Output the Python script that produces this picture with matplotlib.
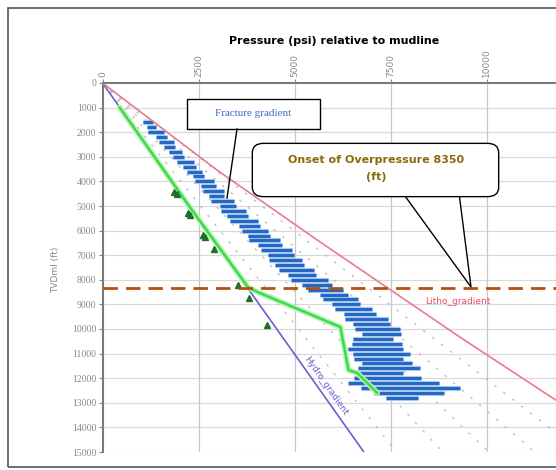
import matplotlib
matplotlib.use("Agg")
import matplotlib.pyplot as plt
from matplotlib.patches import FancyBboxPatch, Polygon, Rectangle
from matplotlib.lines import Line2D

W, H = 556, 470

# ---- data (depth in ft, pressure in psi) ----
x_ticks = [0, 2500, 5000, 7500, 10000]
y_ticks = list(range(0, 16000, 1000))

hydro_depth = [0, 15000]
hydro_psi = [0, 6800]

litho_depth = [0, 3540, 6460, 10330, 12890, 15000]
litho_psi = [0, 2980, 5660, 9300, 11795, 13800]

grad_lines = [0.51, 0.59, 0.67, 0.75, 0.83]  # psi/ft reference lines

pp_depth = [1000, 5040, 8290, 8500, 9920, 11670, 11790, 12600]
pp_psi = [450, 2270, 3780, 4040, 6190, 6400, 6630, 7150]

rft_depth = [4430, 4500, 5280, 5350, 6180, 6260, 6750, 8210, 8740, 9840]
rft_psi = [1860, 1930, 2220, 2280, 2610, 2680, 2900, 3520, 3810, 4280]

fg_depth = [1600, 1800, 2000, 2200, 2400, 2600, 2800, 3000, 3200, 3400,
            3600, 3800, 4000, 4200, 4400, 4600, 4800, 5000, 5200, 5400,
            5600, 5800, 6000, 6200, 6400, 6600, 6800, 7000, 7200, 7400,
            7600, 7800, 8000, 8200, 8400, 8600, 8800, 9000, 9200, 9400,
            9600, 9800, 10000, 10200, 10400, 10600, 10800, 11000, 11200, 11400,
            11600, 11800, 12000, 12200, 12400, 12600, 12800]
fg_lo = [1050, 1150, 1180, 1400, 1480, 1600, 1720, 1830, 1940, 2100,
         2200, 2350, 2400, 2560, 2620, 2760, 2820, 3050, 3080, 3250,
         3330, 3560, 3620, 3780, 3800, 4040, 4120, 4300, 4330, 4500,
         4580, 4820, 4900, 5180, 5360, 5650, 5730, 5960, 6040, 6280,
         6300, 6530, 6560, 6740, 6520, 6480, 6400, 6530, 6540, 6740,
         6660, 6600, 6540, 6400, 6720, 7060, 7380]
fg_hi = [1310, 1400, 1600, 1680, 1850, 1880, 2060, 2130, 2380, 2440,
         2600, 2650, 2900, 2960, 3160, 3170, 3420, 3480, 3730, 3790,
         4050, 4100, 4300, 4360, 4620, 4680, 4930, 4980, 5190, 5240,
         5500, 5550, 5860, 5980, 6270, 6390, 6640, 6700, 7010, 7120,
         7420, 7480, 7740, 7760, 7560, 7780, 7820, 7990, 7820, 8050,
         8250, 7820, 8280, 8760, 9300, 8880, 8220]

onset_depth = 8350

# ---- figure ----
fig = plt.figure(figsize=(W / 100, H / 100), dpi=100)


def px(x, y):
    return x / W, 1 - y / H


ax = fig.add_axes([102.5 / W, 1 - 452 / H, 1 - 102.5 / W, (452 - 83) / H])
ax.set_xlim(0, 11800)
ax.set_ylim(15000, 0)

# grid
for d in y_ticks[1:]:
    ax.axhline(d, color="#d9d9d9", lw=0.9, zorder=0)
for p in x_ticks[1:]:
    ax.axvline(p, color="#c8c8c8", lw=0.9, zorder=0)

# gradient reference lines
for g in grad_lines:
    ax.plot([0, 15000 * g], [0, 15000], color="#b9b9b9", lw=0.9,
            dashes=(2, 7), zorder=1)

# fracture gradient data
ax.hlines(fg_depth, fg_lo, fg_hi, color="#b7d4f2", lw=3.8, zorder=2)
ax.hlines(fg_depth, fg_lo, fg_hi, color="#2468c4", lw=2.3, zorder=3)

# hydro and litho gradients
ax.plot(hydro_psi, hydro_depth, color="#6a5fd0", lw=1.2, zorder=4)
ax.plot(litho_psi, litho_depth, color="#e87b8c", lw=1.2, zorder=4)

# pore pressure
ax.plot(pp_psi, pp_depth, color="#b8f5b8", lw=4, zorder=5,
        solid_capstyle="round")
ax.plot(pp_psi, pp_depth, color="#3fd94a", lw=1.8, zorder=6)

# pressure measurements
ax.plot(rft_psi, rft_depth, ls="none", marker="^", ms=5,
        color="#1f6e2a", zorder=7)

# onset of overpressure
ax.axhline(onset_depth, color="#b5500f", lw=2, dashes=(5.2, 2.9), zorder=8)

# axes styling
ax.xaxis.tick_top()
ax.set_xticks(x_ticks)
ax.set_xticklabels([str(v) for v in x_ticks], rotation=90,
                   fontsize=6.5, color="#888888")
ax.set_yticks(y_ticks)
ax.set_yticklabels([str(v) for v in y_ticks], fontsize=7,
                   color="#888888", family="Liberation Serif")
ax.tick_params(axis="both", length=3, color="#888888", pad=1.5)
for s in ["right", "bottom"]:
    ax.spines[s].set_visible(False)
for s in ["left", "top"]:
    ax.spines[s].set_color("#7a7a7a")
    ax.spines[s].set_linewidth(1.5)

# texts
fig.text(*px(334, 41), "Pressure (psi) relative to mudline", ha="center",
         va="center", fontsize=8, fontweight="bold")
fig.text(*px(56, 270), "TVDml (ft)", rotation=90, ha="center", va="center",
         fontsize=6.5, color="#888888")
ax.text(9240, 8900, "Litho_gradient", fontsize=6.5, color="#e0506a",
        ha="center", va="center", zorder=9)
ax.text(5800, 12300, "Hydro_gradient", fontsize=6.5, color="#6a5fd0",
        rotation=-55, ha="center", va="center", zorder=9)

# fracture gradient callout
fig.add_artist(Line2D([237 / W, 227 / W], [1 - 129 / H, 1 - 198 / H],
                      color="black", lw=1, transform=fig.transFigure))
fig.add_artist(Rectangle(px(187, 129), (320 - 187) / W, (129 - 99) / H,
                         transform=fig.transFigure, facecolor="white",
                         edgecolor="black", lw=1))
fig.text(*px(253, 113), "Fracture gradient", ha="center", va="center",
         fontsize=8, color="#3a6bc8", family="Liberation Serif")

# onset callout
fig.add_artist(Polygon([px(397, 185), px(471, 287), px(458, 185)],
                       closed=True, transform=fig.transFigure,
                       facecolor="white", edgecolor="black", lw=1, zorder=10))
fig.add_artist(FancyBboxPatch(px(259, 191), (492 - 259) / W, (191 - 149) / H,
                              boxstyle="round,pad=0.012,rounding_size=0.02",
                              transform=fig.transFigure, facecolor="white",
                              edgecolor="black", lw=1, zorder=11))
fig.text(*px(376, 160), "Onset of Overpressure 8350", ha="center",
         va="center", fontsize=8, fontweight="bold", color="#8b6a0a",
         zorder=12)
fig.text(*px(376, 177), "(ft)", ha="center", va="center", fontsize=8,
         fontweight="bold", color="#8b6a0a", zorder=12)

# outer frame
fig.add_artist(Rectangle(px(8, 467), (W + 20) / W, (467 - 8) / H,
                         transform=fig.transFigure, fill=False,
                         edgecolor="#555555", lw=1.2))

fig.savefig("out.png", dpi=100)
